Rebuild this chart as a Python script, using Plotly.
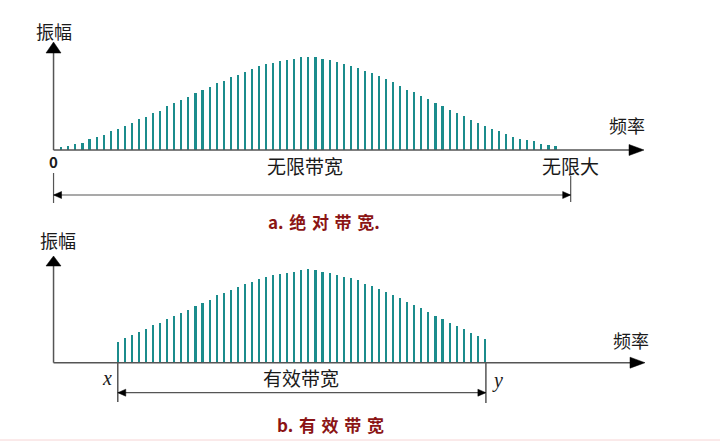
import plotly.graph_objects as go

# ---------------- data ----------------
freq = list(range(1, 72))  # spectral line index (frequency)
amp = [3.3, 4.3, 6, 7, 10.7, 13, 15, 18.7, 21, 24.3,
       27.3, 31, 33.3, 37.3, 39.3, 43.7, 46.7, 50, 53, 57,
       59.7, 63, 67.3, 69.3, 72.7, 75.3, 78.3, 81, 84, 86,
       87.3, 89, 89.7, 91, 92.7, 93.3,
       92.7, 91, 89.7, 88, 85.7, 84.3, 82.3,
       79, 77, 73.7, 71, 67.7, 64.3, 60.3, 58, 54.3, 50.7,
       47, 43.7, 40, 37, 33.7, 30, 26.7, 24, 21.3, 19,
       16.3, 13.3, 11.3, 9.7, 8.7, 6.3, 5.3, 3.7]
eff_lo, eff_hi = 9, 61          # effective band edges (x, y)
eff_freq = [f for f in freq if eff_lo <= f <= eff_hi]
eff_amp = [a for f, a in zip(freq, amp) if eff_lo <= f <= eff_hi]

SP = "\u2004"
title_a = "a." + SP + SP.join("绝对带宽") + "."
title_b = "b." + SP + SP.join("有效带宽")

W, H = 720, 446
X0, DX = 54.24, 7.06            # pixel mapping of the frequency axis
BAR = "#1b8c8c"
AX = "#555555"
RED = "#8b1414"
CJK = "Noto Sans CJK SC"


def fx(f):
    return X0 + DX * f


def px(x):
    return x / W


def py(y):
    return 1 - y / H


fig = go.Figure()
fig.add_trace(go.Bar(x=freq, y=amp, width=0.3, marker=dict(color=BAR, line=dict(width=0)),
                     xaxis="x", yaxis="y", showlegend=False, hoverinfo="skip"))
fig.add_trace(go.Bar(x=eff_freq, y=eff_amp, width=0.3, marker=dict(color=BAR, line=dict(width=0)),
                     xaxis="x2", yaxis="y2", showlegend=False, hoverinfo="skip"))

xr = [-X0 / DX, (W - X0) / DX]
hide = dict(visible=False, showgrid=False, zeroline=False, fixedrange=True)
fig.update_layout(
    width=W, height=H, margin=dict(l=0, r=0, t=0, b=0),
    paper_bgcolor="white", plot_bgcolor="rgba(0,0,0,0)", bargap=0,
    xaxis=dict(range=xr, domain=[0, 1], anchor="y", **hide),
    yaxis=dict(range=[-73, 150], domain=[0.5, 1], anchor="x", **hide),
    xaxis2=dict(range=xr, domain=[0, 1], anchor="y2", **hide),
    yaxis2=dict(range=[-(H - 362.7), 362.7 - 223], domain=[0, 0.5], anchor="x2", **hide),
)

shapes = []
annos = []


def line(x1, y1, x2, y2, w=1.5, c=AX):
    shapes.append(dict(type="line", xref="paper", yref="paper",
                       x0=px(x1), y0=py(y1), x1=px(x2), y1=py(y2),
                       line=dict(color=c, width=w)))


def tri(pts, c="black"):
    d = "M " + " L ".join(f"{px(a)},{py(b)}" for a, b in pts) + " Z"
    shapes.append(dict(type="path", xref="paper", yref="paper", path=d,
                       fillcolor=c, line=dict(color=c, width=0.5)))


def text(t, x, y, size=17, color="#1a1a1a", family=CJK, bold=False):
    if bold:
        t = f"<b>{t}</b>"
    annos.append(dict(text=t, xref="paper", yref="paper", x=px(x), y=py(y),
                      xanchor="center", yanchor="middle", showarrow=False,
                      font=dict(size=size, color=color, family=family)))


ax_x = fx(0) - 0.7

# ---------- top panel ----------
base = 150
line(ax_x, 52, ax_x, base)
tri([(46, 53), (61, 53), (ax_x, 42)])
line(ax_x, base, 632, base)
tri([(629, base - 5.5), (629, base + 5.5), (644, base)])
text("振幅", 54, 31, 18)
text("频率", 627, 125, 18)
text("0", 53, 162, 15, bold=True)
text("无限带宽", 305, 166, 19)
right_a = fx(73.15)
text("无限大", right_a, 166, 19)
line(ax_x, 173, ax_x, 203, 1.2)
line(right_a, 176, right_a, 202, 1.2)
line(ax_x, 195, right_a, 195, 1.2)
tri([(ax_x, 195), (ax_x + 8, 191.5), (ax_x + 8, 198.5)])
tri([(right_a, 195), (right_a - 8, 191.5), (right_a - 8, 198.5)])
text(title_a, 324, 221, 17, color=RED, bold=True)

# ---------- bottom panel ----------
base2 = 362.7
line(ax_x, 265, ax_x, base2)
tri([(46, 266), (61, 266), (ax_x, 256)])
line(ax_x, base2, 633, base2)
tri([(630, base2 - 5.5), (630, base2 + 5.5), (645, base2)])
text("振幅", 58, 240, 18)
text("频率", 631, 339.5, 18)
xl = fx(eff_lo)
xh = fx(eff_hi) + 1
text("<i>x</i>", xl - 11, 378, 20, family="Liberation Serif")
text("<i>y</i>", xh + 12, 380, 20, family="Liberation Serif")
text("有效带宽", 301, 377, 19)
line(xl, base2, xl, 402, 1.5)
line(xh, base2, xh, 403, 1.5)
line(xl, 392.7, xh, 392.7, 1.2)
tri([(xl, 392.7), (xl + 8, 389.2), (xl + 8, 396.2)])
tri([(xh, 392.7), (xh - 8, 389.2), (xh - 8, 396.2)])
text(title_b, 330, 424, 17, color=RED, bold=True)

line(0, 440, W, 440, 1, "#f6d4d4")

fig.update_layout(shapes=shapes, annotations=annos)
fig.write_html("out.html")
